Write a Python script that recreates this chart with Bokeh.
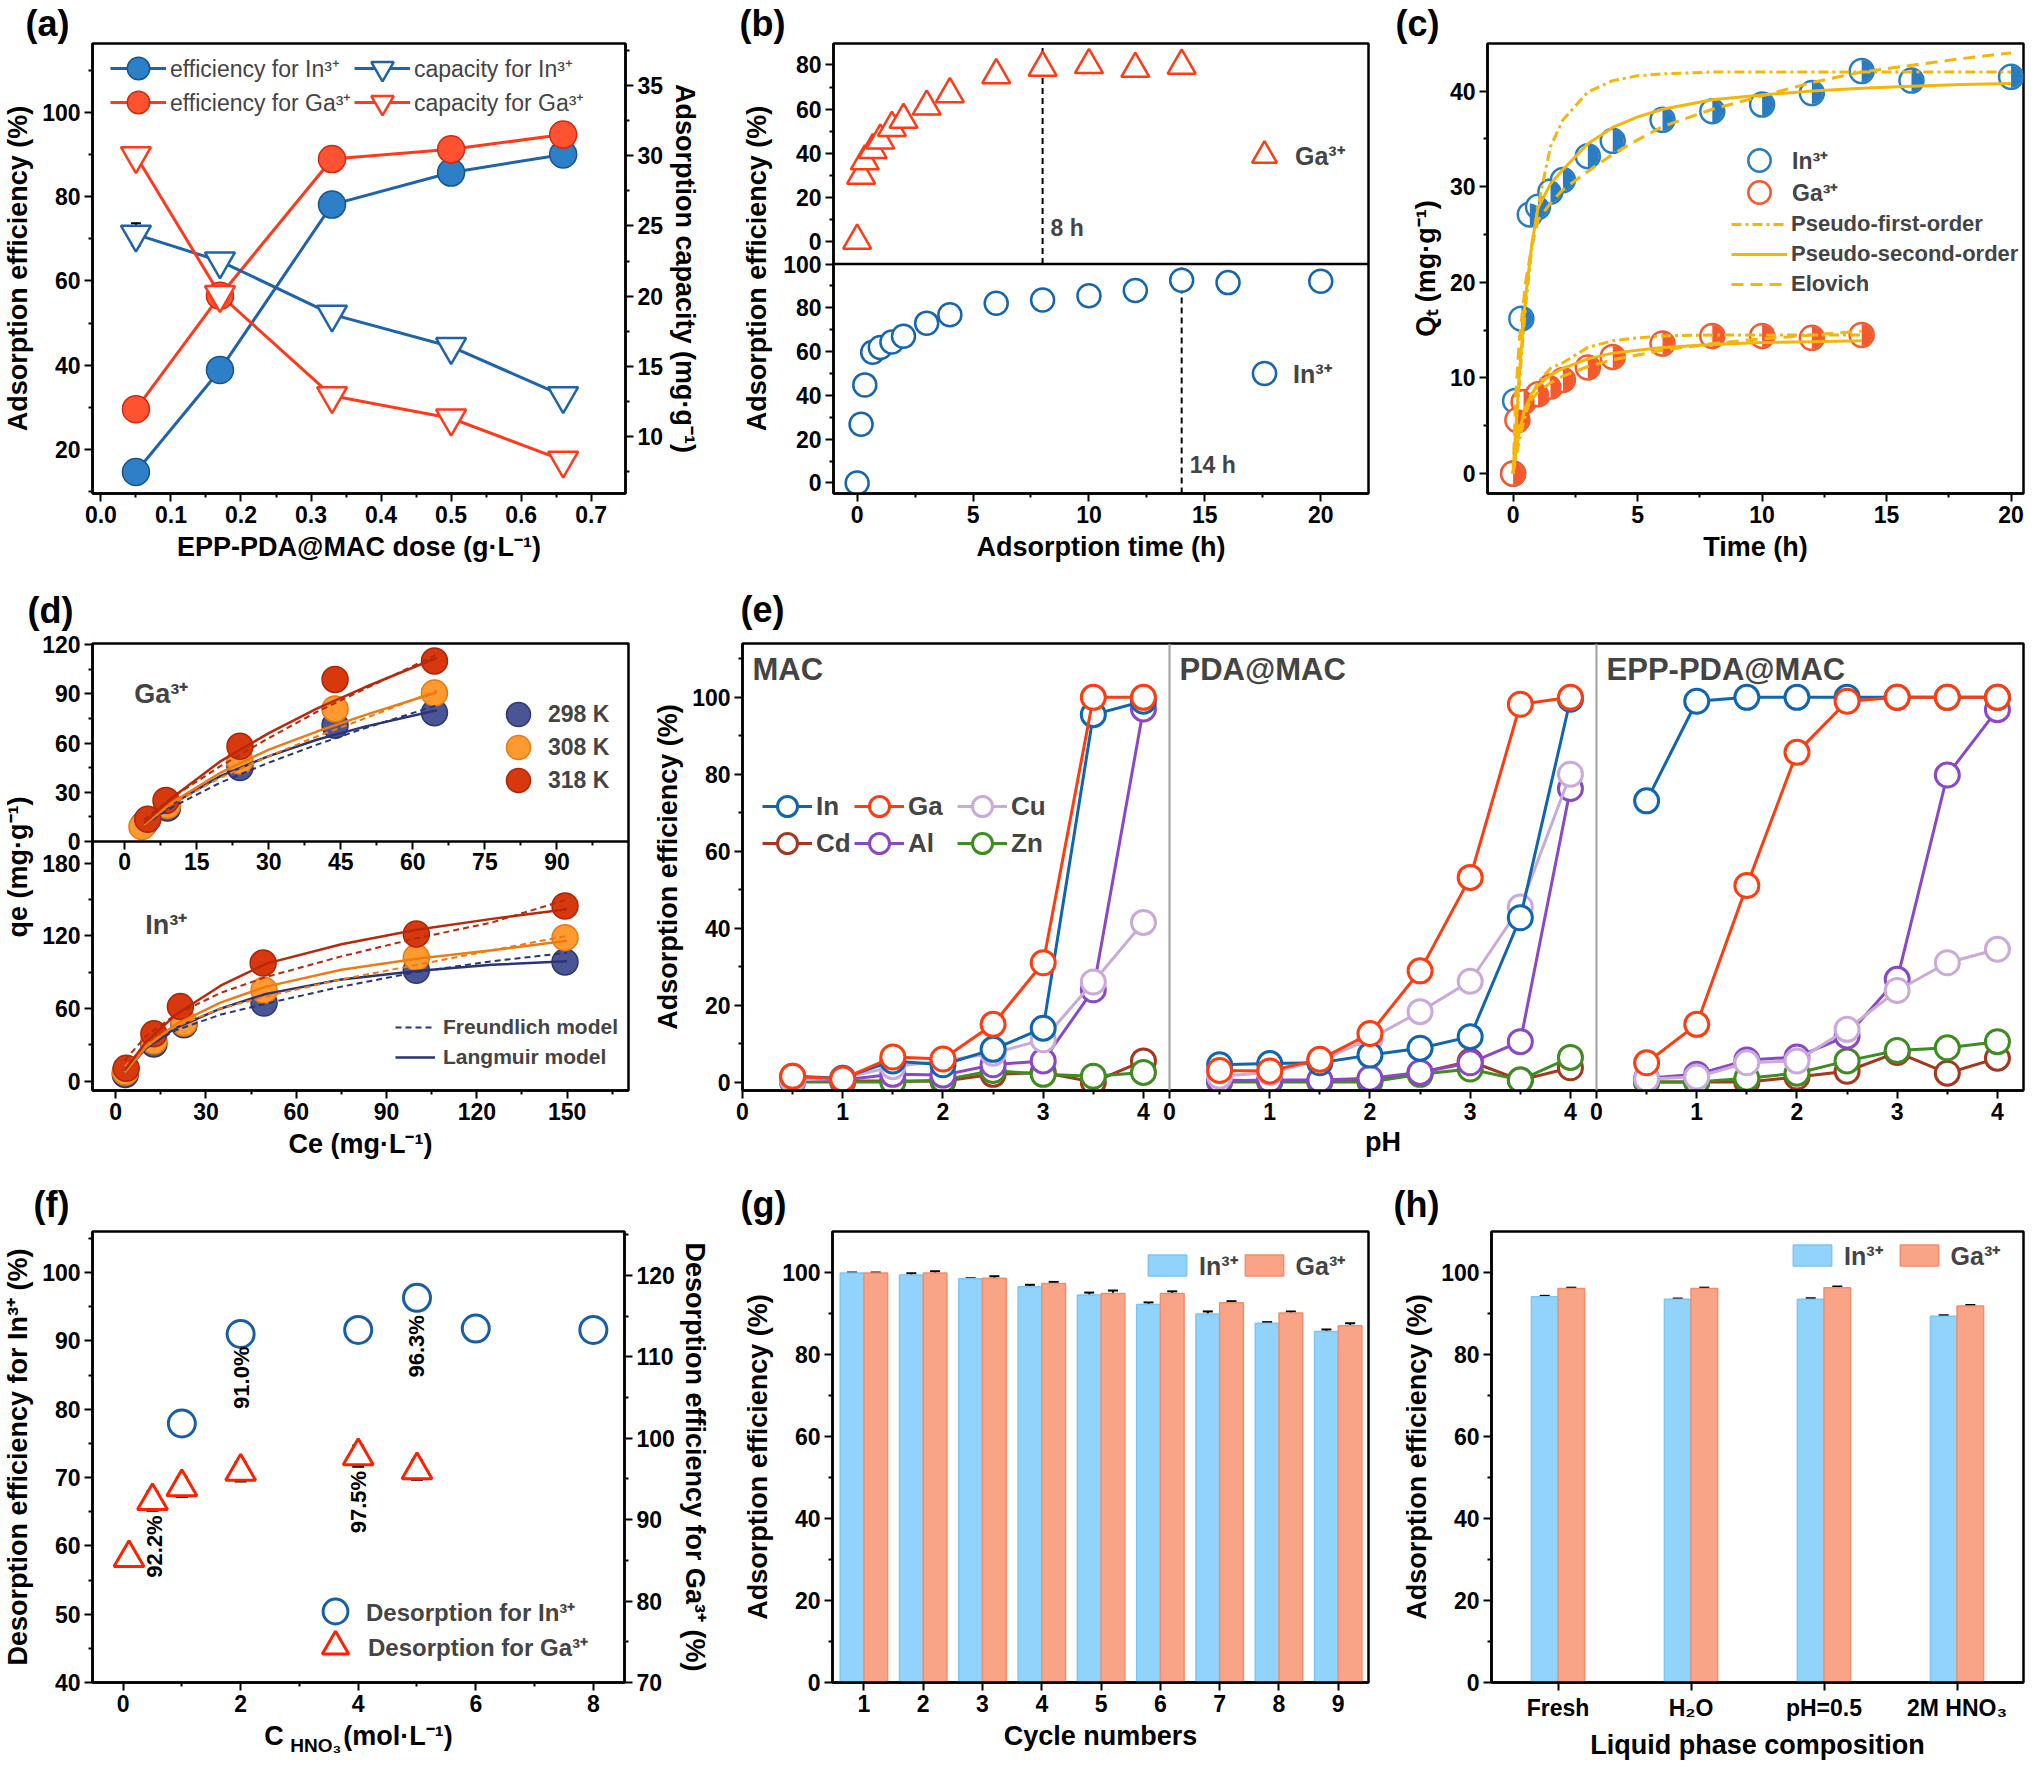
import math
from bokeh.plotting import figure
from bokeh.layouts import column, row
from bokeh.models import (Range1d, LinearAxis, CategoricalAxis, FixedTicker, Span, Legend,
                          LegendItem, Whisker, TeeHead, Label, ColumnDataSource, FactorRange,
                          PrintfTickFormatter, Title)
from bokeh.transform import dodge
from bokeh.embed import file_html
from bokeh.resources import INLINE
from bokeh.core.properties import value

# ============================ DATA ============================
# (a) dose effect
a_dose = [0.05, 0.17, 0.33, 0.50, 0.66]
a_eff_in = [14.7, 38.9, 78.1, 85.7, 90.0]
a_eff_in_err = [0.7, 0.4, 0.4, 1.2, 0.3]
a_eff_ga = [29.6, 56.5, 88.9, 91.2, 94.7]
a_eff_ga_err = [0.3, 0.6, 0.5, 0.6, 0.3]
a_cap_in = [24.4, 22.5, 18.7, 16.4, 12.9]
a_cap_in_err = [0.8, 0.1, 0.1, 0.2, 0.05]
a_cap_ga = [30.0, 20.1, 12.9, 11.3, 8.3]
a_cap_ga_err = [0.2, 0.15, 0.05, 0.05, 0.05]

# (b) adsorption time
b_time_in = [0, 0.17, 0.33, 0.67, 1, 1.5, 2, 3, 4, 6, 8, 10, 12, 14, 16, 20]
b_eff_in = [0, 26.8, 44.8, 59.7, 61.9, 64.4, 67.0, 73.0, 76.8, 82.1, 83.6, 85.5, 87.9, 92.6, 91.5, 92.1]
b_time_ga = [0, 0.17, 0.33, 0.67, 1, 1.5, 2, 3, 4, 6, 8, 10, 12, 14]
b_eff_ga = [0.5, 29.9, 36.4, 41.5, 45.8, 51.5, 55.2, 61.2, 66.8, 75.4, 78.8, 80.0, 78.3, 79.7]
b_eq_time_ga = 8
b_eq_time_in = 14
b_ticks_ga = [0, 20, 40, 60, 80]
b_ticks_in = [0, 20, 40, 60, 80, 100]

# (c) kinetics
c_time_in = [0, 0.08, 0.33, 0.67, 1, 1.5, 2, 3, 4, 6, 8, 10, 12, 14, 16, 20]
c_qt_in = [0, 7.6, 16.2, 27.1, 27.9, 29.5, 30.7, 33.2, 34.8, 37.0, 37.9, 38.6, 39.8, 42.1, 41.1, 41.5]
c_time_ga = [0, 0.17, 0.42, 1, 1.5, 2, 3, 4, 6, 8, 10, 12, 14]
c_qt_ga = [0, 5.6, 7.5, 8.3, 9.1, 9.8, 11.1, 12.2, 13.6, 14.4, 14.4, 14.2, 14.5]
c_fit_t_in = [0, 0.1, 0.25, 0.5, 0.75, 1, 1.5, 2, 3, 4, 5, 6, 8, 10, 12, 14, 16, 18, 20]
c_pfo_in = [0, 3.5, 9.5, 17.5, 23.5, 28.0, 34.2, 37.0, 39.9, 41.1, 41.6, 41.8, 42.0, 42.0, 42.0, 42.0, 42.0, 42.0, 42.0]
c_pso_in = [0, 4.5, 10.5, 18.5, 24.0, 27.8, 30.3, 31.8, 34.5, 36.2, 37.3, 38.1, 39.1, 39.6, 40.0, 40.3, 40.5, 40.7, 40.8]
c_elo_in = [0, 8.0, 14.0, 20.0, 23.8, 26.5, 28.3, 29.7, 31.6, 33.4, 34.9, 36.3, 38.1, 39.5, 40.9, 42.0, 42.7, 43.4, 44.0]
c_fit_t_ga = [0, 0.1, 0.25, 0.5, 0.75, 1, 1.5, 2, 3, 4, 5, 6, 8, 10, 12, 14]
c_pfo_ga = [0, 1.5, 3.5, 6.2, 8.2, 9.6, 11.0, 11.6, 13.2, 13.9, 14.2, 14.4, 14.5, 14.5, 14.5, 14.5]
c_pso_ga = [0, 2.0, 4.5, 7.0, 8.4, 9.2, 10.3, 11.0, 12.0, 12.6, 12.9, 13.2, 13.5, 13.7, 13.8, 13.9]
c_elo_ga = [0, 3.5, 5.2, 6.8, 7.8, 8.5, 9.5, 10.2, 11.2, 11.9, 12.4, 12.9, 13.6, 14.1, 14.5, 14.9]

# (d) isotherms, Ga3+ (upper) and In3+ (lower)
d_ga_ce_298 = [4.0, 8.9, 24.0, 43.8, 64.5]
d_ga_qe_298 = [10.5, 20.3, 45.0, 70.8, 78.5]
d_ga_ce_308 = [3.6, 8.9, 24.0, 43.8, 64.5]
d_ga_qe_308 = [9.0, 22.0, 49.0, 80.8, 90.5]
d_ga_ce_318 = [4.8, 8.6, 24.0, 43.8, 64.5]
d_ga_qe_318 = [13.5, 25.0, 58.0, 98.8, 110.0]
d_ga_fit_ce = [4, 10, 20, 30, 40, 50, 65]
d_ga_lang_298 = [10, 23, 40, 52, 62, 70, 80]
d_ga_freu_298 = [10, 21, 36, 48, 59, 69, 83]
d_ga_lang_308 = [10, 24, 42, 56, 67, 77, 91]
d_ga_freu_308 = [11, 23, 39, 52, 64, 75, 92]
d_ga_lang_318 = [11, 27, 49, 66, 81, 94, 112]
d_ga_freu_318 = [13, 27, 46, 63, 79, 93, 114]
d_in_ce_298 = [3.2, 12.7, 22.7, 49.3, 99.9, 149.3]
d_in_qe_298 = [5.4, 30.6, 46.5, 64.5, 91.5, 98.4]
d_in_ce_308 = [3.2, 12.7, 22.7, 49.3, 99.9, 149.3]
d_in_qe_308 = [7.5, 33.0, 48.0, 75.0, 102.0, 118.5]
d_in_ce_318 = [3.5, 12.7, 21.5, 49.0, 99.9, 149.3]
d_in_qe_318 = [10.5, 39.0, 61.5, 97.5, 121.5, 144.6]
d_in_fit_ce = [3, 10, 20, 35, 50, 75, 100, 125, 150]
d_in_lang_298 = [7, 27, 44, 60, 72, 84, 91, 96, 99]
d_in_freu_298 = [12, 28, 42, 55, 64, 78, 90, 99, 106]
d_in_lang_308 = [7, 28, 47, 65, 78, 92, 101, 108, 116]
d_in_freu_308 = [12, 30, 45, 60, 70, 84, 96, 108, 120]
d_in_lang_318 = [9, 32, 55, 79, 97, 113, 125, 134, 142]
d_in_freu_318 = [17, 37, 55, 73, 86, 103, 118, 131, 150]
d_temps = ["298 K", "308 K", "318 K"]
d_ticks_ga_y = [0, 30, 60, 90, 120]
d_ticks_in_y = [0, 60, 120, 180]

# (e) pH effect on three adsorbents
e_ph = [0.5, 1, 1.5, 2, 2.5, 3, 3.5, 4]
e_ph_ticks = [0, 1, 2, 3, 4]
e_metals = ["In", "Ga", "Cu", "Cd", "Al", "Zn"]
e_mac_in = [1.5, 1.0, 5.5, 4.5, 8.5, 14.0, 95.5, 99.0]
e_mac_ga = [1.5, 0.8, 6.5, 6.0, 15.0, 31.0, 100.0, 100.0]
e_mac_cu = [0.5, 1.0, 4.0, 5.5, 7.5, 11.0, 26.0, 41.5]
e_mac_cd = [1.0, 0.3, 0.3, 0.2, 2.0, 2.5, 0.0, 5.5]
e_mac_al = [0.3, 0.5, 2.0, 1.8, 4.5, 5.5, 24.0, 97.0]
e_mac_zn = [0.0, 0.0, 0.0, 0.5, 3.0, 2.0, 1.5, 2.5]
e_pda_in = [4.5, 4.8, 5.0, 7.0, 8.8, 11.8, 42.7, 99.5]
e_pda_ga = [3.0, 2.9, 5.9, 12.6, 28.9, 53.2, 98.2, 100.0]
e_pda_cu = [1.5, 2.5, 5.5, 11.2, 18.3, 26.2, 45.5, 80.0]
e_pda_cd = [0.5, 0.3, 0.3, 0.5, 2.4, 5.4, 0.5, 3.7]
e_pda_al = [0.3, 0.5, 0.5, 1.0, 2.5, 5.0, 10.5, 76.3]
e_pda_zn = [0.0, 0.0, 0.0, 0.0, 2.0, 3.4, 0.5, 6.4]
e_epp_in = [73.1, 99.0, 100.0, 100.0, 100.0, 100.0, 100.0, 100.0]
e_epp_ga = [5.0, 15.0, 51.1, 85.7, 99.0, 100.0, 100.0, 100.0]
e_epp_cu = [0.8, 1.3, 5.0, 5.5, 13.7, 23.8, 31.0, 34.5]
e_epp_cd = [0.0, 0.0, 0.0, 1.3, 2.8, 7.7, 2.3, 6.2]
e_epp_al = [1.0, 2.0, 5.7, 6.5, 12.0, 26.7, 79.8, 96.8]
e_epp_zn = [0.0, 0.0, 1.0, 2.3, 5.5, 8.2, 8.9, 10.5]
e_panels = ["MAC", "PDA@MAC", "EPP-PDA@MAC"]

# (f) desorption vs HNO3 concentration
f_conc_in = [1, 2, 4, 5, 6, 8]
f_des_in = [77.9, 91.0, 91.6, 96.3, 91.8, 91.6]
f_des_in_err = [1.3, 1.3, 1.2, 1.2, 0.7, 1.2]
f_conc_ga = [0.1, 0.5, 1, 2, 4, 5]
f_des_ga = [85.3, 92.3, 94.0, 95.9, 97.8, 96.1]
f_des_ga_err = [1.0, 1.2, 1.2, 1.2, 1.3, 1.2]
f_note_text = ["92.2%", "91.0%", "97.5%", "96.3%"]
f_note_x = [0.53, 2.02, 4.0, 5.0]
f_note_y = [59.9, 84.6, 66.4, 89.2]

# (g) cycles
g_cycle = [1, 2, 3, 4, 5, 6, 7, 8, 9]
g_in = [99.9, 99.4, 98.5, 96.5, 94.5, 92.2, 89.9, 87.6, 85.6]
g_in_err = [0.1, 0.4, 0.1, 0.5, 0.6, 0.5, 0.6, 0.3, 0.5]
g_ga = [99.9, 99.9, 98.6, 97.3, 94.9, 94.9, 92.6, 90.1, 87.0]
g_ga_err = [0.1, 0.4, 0.5, 0.4, 0.7, 0.5, 0.4, 0.4, 0.6]

# (h) liquid phase composition
h_cats = ["Fresh", "H₂O", "pH=0.5", "2M HNO₃"]
h_in = [94.1, 93.5, 93.5, 89.3]
h_in_err = [0.2, 0.15, 0.2, 0.3]
h_ga = [96.1, 96.1, 96.3, 91.8]
h_ga_err = [0.2, 0.2, 0.3, 0.3]

# ============================ STYLE ============================
FONT = "Liberation Sans"
TICK_FS = "23px"
TITLE_FS = "27px"
IN_BLUE = "#1f63aa"
GA_RED = "#ff3a1c"
FIT_GOLD = "#f5b50a"


def style_axis(ax, ticks=None, minor=None, label=None, standoff=6):
    if ticks is not None:
        ax.ticker = FixedTicker(ticks=ticks, minor_ticks=minor or [])
    ax.major_label_text_font = FONT
    ax.major_label_text_font_style = "bold"
    ax.major_label_text_font_size = TICK_FS
    ax.major_label_text_color = "black"
    ax.axis_line_width = 2.5
    ax.axis_line_color = "black"
    ax.major_tick_line_width = 2
    ax.minor_tick_line_width = 2
    ax.major_tick_line_color = "black"
    ax.minor_tick_line_color = "black"
    ax.major_tick_out = 8
    ax.major_tick_in = 0
    ax.minor_tick_out = 4
    ax.minor_tick_in = 0
    ax.major_label_standoff = 4
    if label is not None:
        ax.axis_label = label
        ax.axis_label_text_font = FONT
        ax.axis_label_text_font_style = "bold"
        ax.axis_label_text_font_size = TITLE_FS
        ax.axis_label_text_color = "black"
        ax.axis_label_standoff = standoff
    return ax


def label_axis(text, standoff=6, fs=TITLE_FS, **kw):
    ax = LinearAxis(**kw)
    ax.ticker = FixedTicker(ticks=[], minor_ticks=[])
    ax.major_tick_out = 0
    ax.major_tick_in = 0
    ax.minor_tick_out = 0
    ax.minor_tick_in = 0
    ax.major_label_standoff = 0
    ax.axis_line_color = None
    ax.axis_label = text
    ax.axis_label_text_font = FONT
    ax.axis_label_text_font_style = "bold"
    ax.axis_label_text_font_size = fs
    ax.axis_label_text_color = "black"
    ax.axis_label_standoff = standoff
    return ax


def make_fig(w, h, l, r, t, b, xr, yr, tag, tag_dx, tag_gap):
    p = figure(width=w, height=h, x_range=xr, y_range=yr, output_backend="svg",
               toolbar_location=None, x_axis_type=None, y_axis_type=None,
               min_border_left=l, min_border_right=r, min_border_top=t, min_border_bottom=b)
    p.grid.visible = False
    p.outline_line_color = "black"
    p.outline_line_width = 2.5
    p.outline_line_alpha = 1.0
    p.background_fill_color = "white"
    p.border_fill_color = "white"
    p.add_layout(Title(text=tag, align="left", offset=tag_dx, standoff=tag_gap, text_font=FONT,
                       text_font_style="bold", text_font_size="36px", text_color="black"), "above")
    return p


def add_err(p, x, y, err, size=10, **kw):
    src = ColumnDataSource(dict(x=x, lo=[a - e for a, e in zip(y, err)],
                                hi=[a + e for a, e in zip(y, err)]))
    p.add_layout(Whisker(source=src, base="x", lower="lo", upper="hi",
                         dimension="height", line_color="black", line_width=2,
                         upper_head=TeeHead(size=size, line_width=2, line_color="black"),
                         lower_head=TeeHead(size=size, line_width=2, line_color="black"), **kw))


def make_legend(items, loc, fs="24px", bold=True, gw=30, gh=28, spacing=4, standoff=6, **kw):
    return Legend(items=items, location=loc, background_fill_alpha=0, border_line_alpha=0,
                  label_text_font=FONT, label_text_font_size=fs,
                  label_text_font_style="bold" if bold else "normal",
                  padding=0, margin=0, spacing=spacing, label_standoff=standoff,
                  glyph_width=gw, glyph_height=gh, label_height=gh, **kw)


def key(p, label, renderers, cx, cy, gw=60, gh=60, fs="24px", bold=True, standoff=0):
    """one legend entry whose key glyph is centred at (cx, cy) px from the frame's bottom-left"""
    p.add_layout(make_legend([LegendItem(label=label, renderers=renderers)],
                             (int(cx - gw / 2), int(cy - gh / 2)), fs=fs, bold=bold,
                             gw=gw, gh=gh, spacing=0, standoff=standoff))


def split_ranges(top_lim, bot_lim, top_px, bot_px):
    t0, t1 = top_lim
    b0, b1 = bot_lim
    top_full = (t0 - (t1 - t0) * bot_px / top_px, t1)
    bot_full = (b0, b1 + (b1 - b0) * top_px / bot_px)
    return top_full, bot_full


def to_axis(v, src_full, dst_full):
    """position of a value of a stacked sub-panel on the shared (default) range"""
    f = (v - src_full[0]) / (src_full[1] - src_full[0])
    return round(dst_full[0] + f * (dst_full[1] - dst_full[0]), 6)


def combined_ticks(groups):
    ticks, minors, over = [], [], {}
    for labels, minor_vals, mapper in groups:
        for t in labels:
            pos = mapper(t)
            ticks.append(pos)
            over[pos] = f"{t:g}"
        for m in minor_vals:
            minors.append(mapper(m))
    return ticks, minors, over

# layout rows (px)
ROW1_H, ROW1_TOP, ROW1_BOT = 572, 42, 79
ROW2_H, ROW2_TOP, ROW2_BOT = 597, 67, 79
ROW3_H, ROW3_TOP, ROW3_BOT = 594, 62, 81
FRAME_H = 451

# ============================ (a) ============================
pa = make_fig(712, ROW1_H, 88, 87, ROW1_TOP, ROW1_BOT, Range1d(-0.012, 0.749), Range1d(9.6, 116.3),
              "(a)", -67, 0)
pa.extra_y_ranges = {"cap": Range1d(5.94, 38.0)}
ax = style_axis(LinearAxis(), [0.0, 0.1, 0.2, 0.3, 0.4, 0.5, 0.6, 0.7],
                [0.05, 0.15, 0.25, 0.35, 0.45, 0.55, 0.65], "EPP-PDA@MAC dose (g·L⁻¹)")
ax.formatter = PrintfTickFormatter(format="%.1f")
pa.add_layout(ax, "below")
pa.add_layout(style_axis(LinearAxis(), [20, 40, 60, 80, 100], [10, 30, 50, 70, 90, 110],
                         "Adsorption efficiency (%)"), "left")
pa.add_layout(style_axis(LinearAxis(y_range_name="cap"), [10, 15, 20, 25, 30, 35],
                         [7.5, 12.5, 17.5, 22.5, 27.5, 32.5, 37.5], "Adsorption capacity (mg·g⁻¹)",
                         standoff=4), "right")

la1 = pa.line(a_dose, a_eff_in, line_color=IN_BLUE, line_width=3)
la2 = pa.line(a_dose, a_eff_ga, line_color=GA_RED, line_width=3)
la3 = pa.line(a_dose, a_cap_in, line_color=IN_BLUE, line_width=3, y_range_name="cap")
la4 = pa.line(a_dose, a_cap_ga, line_color=GA_RED, line_width=3, y_range_name="cap")
sa1 = pa.scatter(a_dose, a_eff_in, marker="circle", size=27, fill_color="#2d80c8", line_color="#16548f", line_width=1.5)
sa2 = pa.scatter(a_dose, a_eff_ga, marker="circle", size=27, fill_color="#ff5230", line_color="#d02a10", line_width=1.5)
sa3 = pa.scatter(a_dose, a_cap_in, marker="inverted_triangle", size=30, fill_color="white",
                 line_color=IN_BLUE, line_width=2.5, y_range_name="cap")
sa4 = pa.scatter(a_dose, a_cap_ga, marker="inverted_triangle", size=30, fill_color="white",
                 line_color=GA_RED, line_width=2.5, y_range_name="cap")
add_err(pa, a_dose, a_eff_in, a_eff_in_err)
add_err(pa, a_dose, a_eff_ga, a_eff_ga_err)
add_err(pa, a_dose, a_cap_in, a_cap_in_err, y_range_name="cap")
add_err(pa, a_dose, a_cap_ga, a_cap_ga_err, y_range_name="cap")
key(pa, "efficiency for In³⁺", [la1, sa1], 46, 425, gw=56, gh=58, fs="23px", bold=False, standoff=4)
key(pa, "capacity for In³⁺", [la3, sa3], 290, 425, gw=56, gh=58, fs="23px", bold=False, standoff=4)
key(pa, "efficiency for Ga³⁺", [la2, sa2], 46, 391, gw=56, gh=58, fs="23px", bold=False, standoff=4)
key(pa, "capacity for Ga³⁺", [la4, sa4], 290, 391, gw=56, gh=58, fs="23px", bold=False, standoff=4)

# ============================ (b) ============================
b_top_lim = (-10.1, 89.7)
b_bot_lim = (-4.8, 100.0)
b_top_full, b_bot_full = split_ranges(b_top_lim, b_bot_lim, 221, 230)
pb = make_fig(675, ROW1_H, 121, 19, ROW1_TOP, ROW1_BOT, Range1d(-1.02, 22.06), Range1d(*b_top_full),
              "(b)", -94, 0)
pb.extra_y_ranges = {"bot": Range1d(*b_bot_full)}
pb.add_layout(style_axis(LinearAxis(), [0, 5, 10, 15, 20], [2.5, 7.5, 12.5, 17.5],
                         "Adsorption time (h)"), "below")
bt, bm, bo = combined_ticks([
    (b_ticks_ga, [10, 30, 50, 70], lambda v: round(v, 6)),
    (b_ticks_in, [10, 30, 50, 70, 90], lambda v: to_axis(v, b_bot_full, b_top_full)),
])
by = style_axis(LinearAxis(), bt, bm, "Adsorption efficiency (%)", standoff=8)
by.major_label_overrides = bo
pb.add_layout(by, "left")
pb.add_layout(Span(location=b_top_lim[0], dimension="width", line_color="black", line_width=2.5))
pb.segment(x0=[b_eq_time_ga], y0=[b_top_lim[0]], x1=[b_eq_time_ga], y1=[b_top_lim[1]],
           line_color="black", line_width=2, line_dash="6 4")
pb.segment(x0=[b_eq_time_in], y0=[b_bot_lim[0]], x1=[b_eq_time_in], y1=[b_bot_lim[1]],
           line_color="black", line_width=2, line_dash="6 4", y_range_name="bot")
pb.add_layout(Label(x=b_eq_time_ga, y=6.0, x_offset=8, text=f"{b_eq_time_ga} h", text_font=FONT,
                    text_font_style="bold", text_font_size="23px", text_baseline="middle"))
pb.add_layout(Label(x=b_eq_time_in, y=8.0, x_offset=8, text=f"{b_eq_time_in} h", text_font=FONT,
                    text_font_style="bold", text_font_size="23px", text_baseline="middle",
                    y_range_name="bot"))
sb_ga = pb.scatter(b_time_ga, b_eff_ga, marker="triangle", size=28, fill_color="white",
                   line_color="#ff3a14", line_width=2.5)
sb_in = pb.scatter(b_time_in, b_eff_in, marker="circle", size=23, fill_color="white",
                   line_color="#1565b0", line_width=2.5, y_range_name="bot")
key(pb, "Ga³⁺", [sb_ga], 431, 338, gw=62, gh=62, fs="25px", standoff=-2)
key(pb, "In³⁺", [sb_in], 431, 120, gw=58, gh=58, fs="25px", standoff=0)

# ============================ (c) ============================
pc = make_fig(639, ROW1_H, 100, 3, ROW1_TOP, ROW1_BOT, Range1d(-1.03, 20.5), Range1d(-2.08, 44.98),
              "(c)", -92, 0)
pc.add_layout(style_axis(LinearAxis(), [0, 5, 10, 15, 20], [2.5, 7.5, 12.5, 17.5], "Time (h)"), "below")
pc.add_layout(style_axis(LinearAxis(), [0, 10, 20, 30, 40], [5, 15, 25, 35], "Qₜ (mg·g⁻¹)"), "left")
C_IN = "#2a7cc0"
C_GA = "#f4582e"
ci_o = pc.scatter(c_time_in, c_qt_in, marker="circle", size=24, fill_color="white", line_color=C_IN, line_width=2.5)
pc.wedge(c_time_in, c_qt_in, radius=11, radius_units="screen", start_angle=-math.pi / 2,
         end_angle=math.pi / 2, fill_color=C_IN, line_color=None)
cg_o = pc.scatter(c_time_ga, c_qt_ga, marker="circle", size=24, fill_color="white", line_color=C_GA, line_width=2.5)
pc.wedge(c_time_ga, c_qt_ga, radius=11, radius_units="screen", start_angle=-math.pi / 2,
         end_angle=math.pi / 2, fill_color=C_GA, line_color=None)
lc1 = pc.line(c_fit_t_in, c_pfo_in, line_color=FIT_GOLD, line_width=3, line_dash="10 4 3 4")
lc2 = pc.line(c_fit_t_in, c_pso_in, line_color=FIT_GOLD, line_width=3)
lc3 = pc.line(c_fit_t_in, c_elo_in, line_color=FIT_GOLD, line_width=3, line_dash="12 7")
pc.line(c_fit_t_ga, c_pfo_ga, line_color=FIT_GOLD, line_width=3, line_dash="10 4 3 4")
pc.line(c_fit_t_ga, c_pso_ga, line_color=FIT_GOLD, line_width=3)
pc.line(c_fit_t_ga, c_elo_ga, line_color=FIT_GOLD, line_width=3, line_dash="12 7")
key(pc, "In³⁺", [ci_o], 272, 333, gw=56, gh=56, fs="23px", standoff=5)
key(pc, "Ga³⁺", [cg_o], 272, 301, gw=56, gh=56, fs="23px", standoff=5)
pc.add_layout(make_legend([
    LegendItem(label="Pseudo-first-order", renderers=[lc1]),
    LegendItem(label="Pseudo-second-order", renderers=[lc2]),
    LegendItem(label="Elovich", renderers=[lc3]),
], (244, 195), fs="22px", gw=56, gh=28, spacing=2, standoff=4))

# ============================ (d) ============================
d_ga_xlim = (-6.7, 104.9)
d_ga_ylim = (0.0, 120.7)
d_in_xlim = (-7.7, 170.4)
d_in_ylim = (-7.8, 198.0)
D_TOP_PX = FRAME_H * 201 / 454
d_gy_full, d_iny_full = split_ranges(d_ga_ylim, d_in_ylim, D_TOP_PX, FRAME_H - D_TOP_PX)
pd_ = make_fig(642, ROW2_H, 86, 14, ROW2_TOP, ROW2_BOT, Range1d(*d_in_xlim), Range1d(*d_iny_full),
               "(d)", -65, 25)
pd_.extra_x_ranges = {"gx": Range1d(*d_ga_xlim)}
pd_.extra_y_ranges = {"gy": Range1d(*d_gy_full)}
pd_.add_layout(style_axis(LinearAxis(), [0, 30, 60, 90, 120, 150], [15, 45, 75, 105, 135, 165],
                          "Ce (mg·L⁻¹)"), "below")
pd_.add_layout(style_axis(LinearAxis(x_range_name="gx", fixed_location=d_in_ylim[1], bounds=d_ga_xlim),
                          [0, 15, 30, 45, 60, 75, 90], [7.5, 22.5, 37.5, 52.5, 67.5, 82.5, 97.5]), "below")
dt, dm, do = combined_ticks([
    (d_ticks_in_y, [30, 90, 150], lambda v: round(v, 6)),
    (d_ticks_ga_y, [15, 45, 75, 105], lambda v: to_axis(v, d_gy_full, d_iny_full)),
])
dy = style_axis(LinearAxis(), dt, dm, "qe (mg·g⁻¹)", standoff=6)
dy.major_label_overrides = do
pd_.add_layout(dy, "left")

D_FILL = ["#4a5596", "#ff9a30", "#d8380e"]
D_EDGE = ["#2e3670", "#e87810", "#b02406"]
D_LINE = ["#2a3478", "#f07a12", "#b8280a"]
ga_sets = [(d_ga_ce_298, d_ga_qe_298, d_ga_lang_298, d_ga_freu_298),
           (d_ga_ce_308, d_ga_qe_308, d_ga_lang_308, d_ga_freu_308),
           (d_ga_ce_318, d_ga_qe_318, d_ga_lang_318, d_ga_freu_318)]
in_sets = [(d_in_ce_298, d_in_qe_298, d_in_lang_298, d_in_freu_298),
           (d_in_ce_308, d_in_qe_308, d_in_lang_308, d_in_freu_308),
           (d_in_ce_318, d_in_qe_318, d_in_lang_318, d_in_freu_318)]
d_sph = []
d_lines = []
for i, (ce, qe, lang, freu) in enumerate(ga_sets):
    d_sph.append(pd_.scatter(ce, qe, marker="circle", size=26, fill_color=D_FILL[i], line_color=D_EDGE[i],
                             line_width=1.5, x_range_name="gx", y_range_name="gy"))
for i, (ce, qe, lang, freu) in enumerate(in_sets):
    pd_.scatter(ce, qe, marker="circle", size=26, fill_color=D_FILL[i], line_color=D_EDGE[i], line_width=1.5)
for i, (ce, qe, lang, freu) in enumerate(ga_sets):
    pd_.line(d_ga_fit_ce, lang, line_color=D_LINE[i], line_width=2.5, x_range_name="gx", y_range_name="gy")
    pd_.line(d_ga_fit_ce, freu, line_color=D_LINE[i], line_width=2, line_dash="6 4",
             x_range_name="gx", y_range_name="gy")
for i, (ce, qe, lang, freu) in enumerate(in_sets):
    rl = pd_.line(d_in_fit_ce, lang, line_color=D_LINE[i], line_width=2.5)
    rf = pd_.line(d_in_fit_ce, freu, line_color=D_LINE[i], line_width=2, line_dash="6 4")
    d_lines.append((rl, rf))
for i, (t, r) in enumerate(zip(d_temps, d_sph)):
    key(pd_, t, [r], 426, 376 - 33 * i, gw=60, gh=60, fs="23px", standoff=-10)
pd_.add_layout(make_legend([LegendItem(label="Freundlich model", renderers=[d_lines[0][1]]),
                            LegendItem(label="Langmuir model", renderers=[d_lines[0][0]])],
                           (303, 20), fs="21px", gw=40, gh=26, spacing=4, standoff=8))
pd_.add_layout(Label(x=2.0, y=90, x_range_name="gx", y_range_name="gy", text="Ga³⁺", text_font=FONT,
                     text_font_style="bold", text_font_size="27px", text_baseline="middle"))
pd_.add_layout(Label(x=9.8, y=129, text="In³⁺", text_font=FONT,
                     text_font_style="bold", text_font_size="27px", text_baseline="middle"))

# ============================ (e) ============================
e_sub_w = 4.26
pe = make_fig(1384, ROW2_H, 100, 3, ROW2_TOP, ROW2_BOT, Range1d(0, 3 * e_sub_w), Range1d(-2.2, 114),
              "(e)", -2, 28)
pe.extra_x_ranges = {"s1": Range1d(-e_sub_w, 2 * e_sub_w), "s2": Range1d(-2 * e_sub_w, e_sub_w)}
et, em, eo = combined_ticks([
    (e_ph_ticks, [0.5, 1.5, 2.5, 3.5], (lambda k: (lambda v: round(v + k * e_sub_w, 6)))(k))
    for k in range(3)
])
ex = style_axis(LinearAxis(), et, em, "pH", standoff=4)
ex.major_label_overrides = eo
pe.add_layout(ex, "below")
pe.add_layout(style_axis(LinearAxis(), [0, 20, 40, 60, 80, 100], [10, 30, 50, 70, 90, 110],
                         "Adsorption efficiency (%)"), "left")
for k in (1, 2):
    pe.add_layout(Span(location=k * e_sub_w, dimension="height", line_color="#a0a0a0", line_width=2))
E_COL = ["#0f65b0", "#ff3c10", "#c9aad9", "#a3381f", "#8a48c8", "#3e8c22"]
e_data = [("default", [e_mac_in, e_mac_ga, e_mac_cu, e_mac_cd, e_mac_al, e_mac_zn]),
          ("s1", [e_pda_in, e_pda_ga, e_pda_cu, e_pda_cd, e_pda_al, e_pda_zn]),
          ("s2", [e_epp_in, e_epp_ga, e_epp_cu, e_epp_cd, e_epp_al, e_epp_zn])]
e_leg = {}
for pi_, (rng, series) in enumerate(e_data):
    for j in [3, 5, 4, 2, 0, 1]:
        ys = series[j]
        rl = pe.line(e_ph, ys, line_color=E_COL[j], line_width=3, x_range_name=rng)
        rs = pe.scatter(e_ph, ys, marker="circle", size=24, fill_color="white", line_color=E_COL[j],
                        line_width=3, x_range_name=rng)
        if pi_ == 0:
            e_leg[j] = (rl, rs)
    pe.add_layout(Label(x=0.1, y=111.8, x_range_name=rng, text=e_panels[pi_], text_font=FONT,
                        text_font_style="bold", text_font_size="31px", text_baseline="top"))
E_KEY_X = [45, 137, 240]
E_KEY_Y = [284, 247]
for j, metal in enumerate(e_metals):
    key(pe, metal, list(e_leg[j]), E_KEY_X[j % 3], E_KEY_Y[j // 3], gw=50, gh=56, fs="26px", standoff=4)

# ============================ (f) ============================
pf = make_fig(712, ROW3_H, 88, 86, ROW3_TOP, ROW3_BOT, Range1d(-0.52, 8.53), Range1d(40, 106),
              "(f)", -59, 14)
pf.extra_y_ranges = {"ga": Range1d(70, 125.4)}
pf.add_layout(style_axis(LinearAxis(), [0, 2, 4, 6, 8], [1, 3, 5, 7]), "below")
EM = "\u2003"
pf.add_layout(label_axis("C" + EM + EM + "\u2009(mol·L⁻¹)", standoff=6), "below")
pf.add_layout(label_axis("HNO₃" + EM * 4 + "\u2002", standoff=-19, fs="19px"), "below")
pf.add_layout(style_axis(LinearAxis(), [40, 50, 60, 70, 80, 90, 100], [45, 55, 65, 75, 85, 95, 105],
                         "Desorption efficiency for In³⁺ (%)"), "left")
pf.add_layout(style_axis(LinearAxis(y_range_name="ga"), [70, 80, 90, 100, 110, 120],
                         [75, 85, 95, 105, 115, 125], "Desorption efficiency for Ga³⁺ (%)",
                         standoff=2), "right")
sf_in = pf.scatter(f_conc_in, f_des_in, marker="circle", size=27, fill_color="white",
                   line_color="#175ea6", line_width=3)
sf_ga = pf.scatter(f_conc_ga, f_des_ga, marker="triangle", size=30, fill_color="white",
                   line_color="#ff2000", line_width=3, y_range_name="ga")
add_err(pf, f_conc_in, f_des_in, f_des_in_err, size=12)
add_err(pf, f_conc_ga, f_des_ga, f_des_ga_err, size=12, y_range_name="ga")
pf.text(x=f_note_x, y=f_note_y, text=f_note_text, angle=math.pi / 2, text_align="center",
        text_baseline="middle", text_font=value(FONT), text_font_style="bold",
        text_font_size="22px", text_color="black")
key(pf, "Desorption for In³⁺", [sf_in], 243, 71, gw=62, gh=62, fs="24px", standoff=-4)
key(pf, "Desorption for Ga³⁺", [sf_ga], 243, 36, gw=66, gh=66, fs="24px", standoff=-6)

# ============================ (g) ============================
BAR_IN = "#92d3fb"
BAR_IN_EDGE = "#7cc6f3"
BAR_GA = "#f9a486"
BAR_GA_EDGE = "#f08e6e"
pg = make_fig(675, ROW3_H, 120, 19, ROW3_TOP, ROW3_BOT, Range1d(0.47, 9.51), Range1d(0, 110),
              "(g)", -92, 14)
pg.add_layout(style_axis(LinearAxis(), g_cycle, [], "Cycle numbers"), "below")
pg.add_layout(style_axis(LinearAxis(), [0, 20, 40, 60, 80, 100], [10, 30, 50, 70, 90],
                         "Adsorption efficiency (%)"), "left")
gsrc = ColumnDataSource(dict(cycle=g_cycle, inv=g_in, ga=g_ga,
                             in_lo=[a - e for a, e in zip(g_in, g_in_err)],
                             in_hi=[a + e for a, e in zip(g_in, g_in_err)],
                             ga_lo=[a - e for a, e in zip(g_ga, g_ga_err)],
                             ga_hi=[a + e for a, e in zip(g_ga, g_ga_err)]))
gb1 = pg.vbar(x=dodge("cycle", -0.2), top="inv", width=0.4, source=gsrc, fill_color=BAR_IN,
              line_color=BAR_IN_EDGE, line_width=1.5)
gb2 = pg.vbar(x=dodge("cycle", 0.2), top="ga", width=0.4, source=gsrc, fill_color=BAR_GA,
              line_color=BAR_GA_EDGE, line_width=1.5)
for off, lo, hi in [(-0.2, "in_lo", "in_hi"), (0.2, "ga_lo", "ga_hi")]:
    pg.add_layout(Whisker(source=gsrc, base=dodge("cycle", off), lower=lo, upper=hi, dimension="height",
                          line_color="black", line_width=2,
                          upper_head=TeeHead(size=10, line_width=2, line_color="black"),
                          lower_head=TeeHead(size=10, line_width=2, line_color="black")))
pg.add_layout(make_legend([LegendItem(label="In³⁺", renderers=[gb1]),
                           LegendItem(label="Ga³⁺", renderers=[gb2])],
                          (311, 400), fs="25px", gw=48, gh=26, spacing=2, standoff=8,
                          orientation="horizontal"))

# ============================ (h) ============================
ph = make_fig(639, ROW3_H, 104, 3, ROW3_TOP, ROW3_BOT, FactorRange(factors=h_cats), Range1d(0, 110),
              "(h)", -98, 14)
ph.add_layout(style_axis(CategoricalAxis(), None, None, "Liquid phase composition"), "below")
ph.add_layout(style_axis(LinearAxis(), [0, 20, 40, 60, 80, 100], [10, 30, 50, 70, 90],
                         "Adsorption efficiency (%)"), "left")
hsrc = ColumnDataSource(dict(cat=h_cats, inv=h_in, ga=h_ga,
                             in_lo=[a - e for a, e in zip(h_in, h_in_err)],
                             in_hi=[a + e for a, e in zip(h_in, h_in_err)],
                             ga_lo=[a - e for a, e in zip(h_ga, h_ga_err)],
                             ga_hi=[a + e for a, e in zip(h_ga, h_ga_err)]))
hb1 = ph.vbar(x=dodge("cat", -0.1, range=ph.x_range), top="inv", width=0.2, source=hsrc,
              fill_color=BAR_IN, line_color=BAR_IN_EDGE, line_width=1.5)
hb2 = ph.vbar(x=dodge("cat", 0.1, range=ph.x_range), top="ga", width=0.2, source=hsrc,
              fill_color=BAR_GA, line_color=BAR_GA_EDGE, line_width=1.5)
for off, lo, hi in [(-0.1, "in_lo", "in_hi"), (0.1, "ga_lo", "ga_hi")]:
    ph.add_layout(Whisker(source=hsrc, base=dodge("cat", off, range=ph.x_range), lower=lo, upper=hi,
                          dimension="height", line_color="black", line_width=2,
                          upper_head=TeeHead(size=10, line_width=2, line_color="black"),
                          lower_head=TeeHead(size=10, line_width=2, line_color="black")))
ph.add_layout(make_legend([LegendItem(label="In³⁺", renderers=[hb1]),
                           LegendItem(label="Ga³⁺", renderers=[hb2])],
                          (297, 410), fs="25px", gw=48, gh=26, spacing=12, standoff=8,
                          orientation="horizontal"))

layout = column(row(pa, pb, pc), row(pd_, pe), row(pf, pg, ph))
open("out.html", "w").write(file_html(layout, INLINE))
